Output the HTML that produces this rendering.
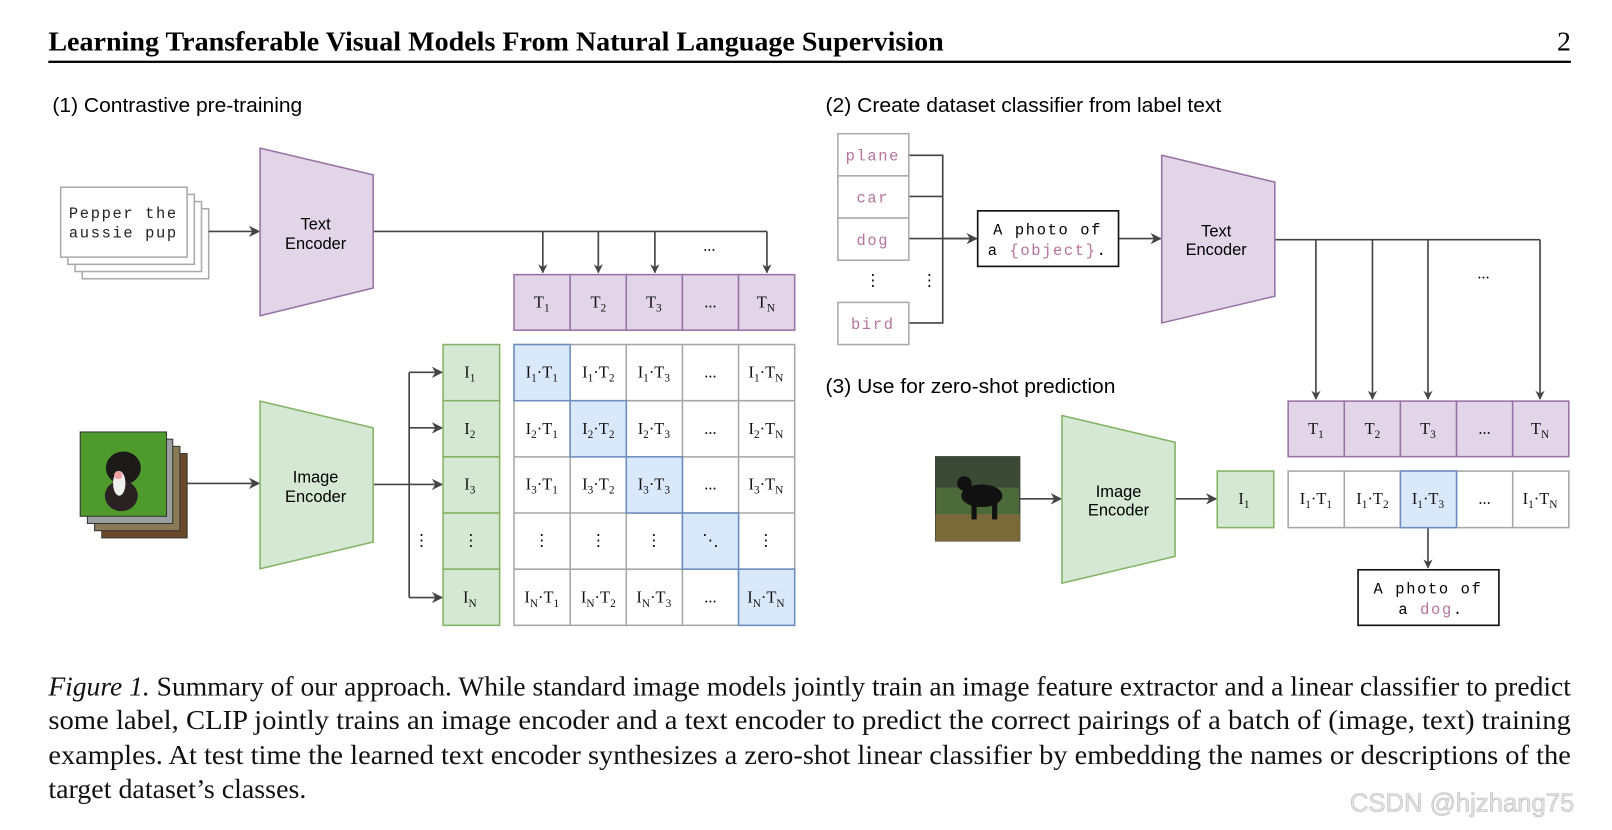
<!DOCTYPE html>
<html><head><meta charset="utf-8"><style>
html,body{margin:0;padding:0;background:#fff}
svg{display:block}
.sf{font-family:"Liberation Serif",serif}
.ss{font-family:"Liberation Sans",sans-serif}
.mo{font-family:"Liberation Mono",monospace;letter-spacing:1.6px}
.c{font-family:"Liberation Serif",serif;font-size:16px;text-anchor:middle;fill:#111}
.s{font-size:11px}
.pk{fill:#b5739d}
</style></head><body>
<svg width="1612" height="830" viewBox="0 0 1568 807" preserveAspectRatio="none" xmlns="http://www.w3.org/2000/svg">
<defs><marker id="a" viewBox="0 0 10 10" refX="9" refY="5" markerWidth="9" markerHeight="9" markerUnits="userSpaceOnUse" orient="auto"><path d="M0,0 L10,5 L0,10 L3,5 z" fill="#444"/></marker>
<marker id="b" viewBox="0 0 10 10" refX="9" refY="5" markerWidth="11" markerHeight="11" markerUnits="userSpaceOnUse" orient="auto"><path d="M0,0 L10,5 L0,10 L3,5 z" fill="#444"/></marker></defs>
<text x="47" y="49" class="sf" font-size="26.5" font-weight="bold" textLength="871" lengthAdjust="spacingAndGlyphs">Learning Transferable Visual Models From Natural Language Supervision</text>
<text x="1528" y="49" class="sf" font-size="27" text-anchor="end">2</text>
<rect x="47" y="59" width="1481" height="2.2" fill="#000"/>
<text x="51" y="109" class="ss" font-size="20" textLength="243" lengthAdjust="spacingAndGlyphs">(1) Contrastive pre-training</text>
<text x="803" y="109" class="ss" font-size="20" textLength="385" lengthAdjust="spacingAndGlyphs">(2) Create dataset classifier from label text</text>
<text x="803" y="382" class="ss" font-size="20" textLength="282" lengthAdjust="spacingAndGlyphs">(3) Use for zero-shot prediction</text>
<g fill="#fff" stroke="#aaa" stroke-width="1.5">
<rect x="80" y="203" width="123" height="68"/><rect x="73" y="196" width="123" height="68"/><rect x="66" y="189" width="123" height="68"/><rect x="59" y="182" width="123" height="68"/></g>
<text x="120" y="212" class="mo" font-size="15" text-anchor="middle" fill="#222">Pepper the</text>
<text x="120" y="231" class="mo" font-size="15" text-anchor="middle" fill="#222">aussie pup</text>
<g stroke="#444" stroke-width="1.6" fill="none">
<path d="M203 225H252" marker-end="url(#b)"/>
<path d="M363 225H746"/>
<path d="M528 225V265" marker-end="url(#a)"/><path d="M582 225V265" marker-end="url(#a)"/><path d="M637 225V265" marker-end="url(#a)"/><path d="M746 225V265" marker-end="url(#a)"/>
<path d="M182 470H252" marker-end="url(#b)"/>
<path d="M363 471H398"/><path d="M398 362V581"/>
<path d="M398 362H430" marker-end="url(#b)"/><path d="M398 416H430" marker-end="url(#b)"/><path d="M398 471H430" marker-end="url(#b)"/><path d="M398 581H430" marker-end="url(#b)"/>
<path d="M884 151H917V314H884M884 191H917M884 232H950" stroke="#444"/>
<path d="M917 232H950" marker-end="url(#b)"/>
<path d="M1088 232H1129" marker-end="url(#b)"/>
<path d="M1240 233H1498"/>
<path d="M1280 233V388" marker-end="url(#a)"/><path d="M1335 233V388" marker-end="url(#a)"/><path d="M1389 233V388" marker-end="url(#a)"/><path d="M1498 233V388" marker-end="url(#a)"/>
<path d="M992 485H1032" marker-end="url(#b)"/>
<path d="M1143 485H1183" marker-end="url(#b)"/>
<path d="M1389 513V552" marker-end="url(#a)"/>
</g>
<text x="690" y="244" class="c" font-size="12">...</text>
<text x="1443" y="271" class="c" font-size="12">...</text>
<polygon points="253,144 363,170 363,280 253,307" fill="#e1d5e7" stroke="#9673a6" stroke-width="1.5"/>
<text x="307" y="223" class="ss" font-size="16" text-anchor="middle">Text</text>
<text x="307" y="242" class="ss" font-size="16" text-anchor="middle">Encoder</text>
<polygon points="253,390 363,416 363,527 253,553" fill="#d5e8d4" stroke="#82b366" stroke-width="1.5"/>
<text x="307" y="469" class="ss" font-size="16" text-anchor="middle">Image</text>
<text x="307" y="488" class="ss" font-size="16" text-anchor="middle">Encoder</text>
<polygon points="1130,151 1240,177 1240,288 1130,314" fill="#e1d5e7" stroke="#9673a6" stroke-width="1.5"/>
<text x="1183" y="230" class="ss" font-size="16" text-anchor="middle">Text</text>
<text x="1183" y="248" class="ss" font-size="16" text-anchor="middle">Encoder</text>
<polygon points="1033,404 1143,430 1143,541 1033,567" fill="#d5e8d4" stroke="#82b366" stroke-width="1.5"/>
<text x="1088" y="483" class="ss" font-size="16" text-anchor="middle">Image</text>
<text x="1088" y="501" class="ss" font-size="16" text-anchor="middle">Encoder</text>
<!-- photos -->
<rect x="99" y="441" width="83" height="82" fill="#6b4a2a" stroke="#333"/>
<rect x="92" y="434" width="83" height="82" fill="#8a7a55" stroke="#333"/>
<rect x="85" y="427" width="83" height="82" fill="#9aa0a0" stroke="#333"/>
<rect x="78" y="420" width="84" height="82" fill="#4f9a2c" stroke="#333"/>
<ellipse cx="120" cy="455" rx="17" ry="16" fill="#1d1a1a"/><ellipse cx="118" cy="482" rx="16" ry="15" fill="#2a2222"/><ellipse cx="116" cy="470" rx="6" ry="12" fill="#eee"/><circle cx="115" cy="462" r="4" fill="#e8a0a0"/>
<rect x="910" y="444" width="82" height="82" fill="#4d6a3a" stroke="#333"/>
<rect x="910" y="444" width="82" height="30" fill="#3a4a35"/><rect x="910" y="500" width="82" height="26" fill="#7a6a3a"/>
<ellipse cx="955" cy="482" rx="20" ry="11" fill="#111"/><circle cx="938" cy="470" r="7" fill="#111"/><rect x="945" y="485" width="5" height="20" fill="#111"/><rect x="965" y="485" width="5" height="20" fill="#111"/>
<!-- T rows -->
<g fill="#e1d5e7" stroke="#9673a6" stroke-width="1.5">
<rect x="500" y="267" width="54.6" height="54"/><rect x="554.6" y="267" width="54.6" height="54"/><rect x="609.2" y="267" width="54.6" height="54"/><rect x="663.8" y="267" width="54.6" height="54"/><rect x="718.4" y="267" width="54.6" height="54"/>
<rect x="1253" y="390" width="54.6" height="54"/><rect x="1307.6" y="390" width="54.6" height="54"/><rect x="1362.2" y="390" width="54.6" height="54"/><rect x="1416.8" y="390" width="54.6" height="54"/><rect x="1471.4" y="390" width="54.6" height="54"/></g>
<text x="527" y="299" class="c">T<tspan class="s" dy="4">1</tspan></text>
<text x="582" y="299" class="c">T<tspan class="s" dy="4">2</tspan></text>
<text x="636" y="299" class="c">T<tspan class="s" dy="4">3</tspan></text>
<text x="691" y="299" class="c" font-size="12">...</text>
<text x="745" y="299" class="c">T<tspan class="s" dy="4">N</tspan></text>
<text x="1280" y="422" class="c">T<tspan class="s" dy="4">1</tspan></text>
<text x="1335" y="422" class="c">T<tspan class="s" dy="4">2</tspan></text>
<text x="1389" y="422" class="c">T<tspan class="s" dy="4">3</tspan></text>
<text x="1444" y="422" class="c" font-size="12">...</text>
<text x="1498" y="422" class="c">T<tspan class="s" dy="4">N</tspan></text>
<!-- I column -->
<g fill="#d5e8d4" stroke="#82b366" stroke-width="1.5">
<rect x="431" y="335" width="55" height="54.6"/><rect x="431" y="389.6" width="55" height="54.6"/><rect x="431" y="444.2" width="55" height="54.6"/><rect x="431" y="498.8" width="55" height="54.6"/><rect x="431" y="553.4" width="55" height="54.6"/>
<rect x="1184" y="458" width="55" height="55"/></g>
<text x="457" y="367" class="c">I<tspan class="s" dy="4">1</tspan></text>
<text x="457" y="422" class="c">I<tspan class="s" dy="4">2</tspan></text>
<text x="457" y="476" class="c">I<tspan class="s" dy="4">3</tspan></text>
<text x="458" y="531" class="c">⋮</text>
<text x="410" y="531" class="c">⋮</text>
<text x="457" y="586" class="c">I<tspan class="s" dy="4">N</tspan></text>
<text x="1210" y="490" class="c">I<tspan class="s" dy="4">1</tspan></text>
<!-- matrix -->
<g fill="#fff" stroke="#a6a6a6" stroke-width="1.5">
<rect x="500" y="335" width="273" height="273"/>
<path d="M554.6 335V608M609.2 335V608M663.8 335V608M718.4 335V608M500 389.6H773M500 444.2H773M500 498.8H773M500 553.4H773"/>
<rect x="1253" y="458" width="273" height="55"/>
<path d="M1307.6 458V513M1362.2 458V513M1416.8 458V513M1471.4 458V513"/></g>
<g fill="#dae8fc" stroke="#6c8ebf" stroke-width="1.5">
<rect x="500" y="335" width="54.6" height="54.6"/><rect x="554.6" y="389.6" width="54.6" height="54.6"/><rect x="609.2" y="444.2" width="54.6" height="54.6"/><rect x="663.8" y="498.8" width="54.6" height="54.6"/><rect x="718.4" y="553.4" width="54.6" height="54.6"/>
<rect x="1362.2" y="458" width="54.6" height="55"/></g>
<g>
<text x="527" y="367" class="c">I<tspan class="s" dy="4">1</tspan><tspan dy="-4">·T</tspan><tspan class="s" dy="4">1</tspan></text>
<text x="582" y="367" class="c">I<tspan class="s" dy="4">1</tspan><tspan dy="-4">·T</tspan><tspan class="s" dy="4">2</tspan></text>
<text x="636" y="367" class="c">I<tspan class="s" dy="4">1</tspan><tspan dy="-4">·T</tspan><tspan class="s" dy="4">3</tspan></text>
<text x="691" y="367" class="c" font-size="12">...</text>
<text x="745" y="367" class="c">I<tspan class="s" dy="4">1</tspan><tspan dy="-4">·T</tspan><tspan class="s" dy="4">N</tspan></text>
<text x="527" y="422" class="c">I<tspan class="s" dy="4">2</tspan><tspan dy="-4">·T</tspan><tspan class="s" dy="4">1</tspan></text>
<text x="582" y="422" class="c">I<tspan class="s" dy="4">2</tspan><tspan dy="-4">·T</tspan><tspan class="s" dy="4">2</tspan></text>
<text x="636" y="422" class="c">I<tspan class="s" dy="4">2</tspan><tspan dy="-4">·T</tspan><tspan class="s" dy="4">3</tspan></text>
<text x="691" y="422" class="c" font-size="12">...</text>
<text x="745" y="422" class="c">I<tspan class="s" dy="4">2</tspan><tspan dy="-4">·T</tspan><tspan class="s" dy="4">N</tspan></text>
<text x="527" y="476" class="c">I<tspan class="s" dy="4">3</tspan><tspan dy="-4">·T</tspan><tspan class="s" dy="4">1</tspan></text>
<text x="582" y="476" class="c">I<tspan class="s" dy="4">3</tspan><tspan dy="-4">·T</tspan><tspan class="s" dy="4">2</tspan></text>
<text x="636" y="476" class="c">I<tspan class="s" dy="4">3</tspan><tspan dy="-4">·T</tspan><tspan class="s" dy="4">3</tspan></text>
<text x="691" y="476" class="c" font-size="12">...</text>
<text x="745" y="476" class="c">I<tspan class="s" dy="4">3</tspan><tspan dy="-4">·T</tspan><tspan class="s" dy="4">N</tspan></text>
<text x="527" y="531" class="c">⋮</text><text x="582" y="531" class="c">⋮</text><text x="636" y="531" class="c">⋮</text><text x="691" y="531" class="c">⋱</text><text x="745" y="531" class="c">⋮</text>
<text x="527" y="586" class="c">I<tspan class="s" dy="4">N</tspan><tspan dy="-4">·T</tspan><tspan class="s" dy="4">1</tspan></text>
<text x="582" y="586" class="c">I<tspan class="s" dy="4">N</tspan><tspan dy="-4">·T</tspan><tspan class="s" dy="4">2</tspan></text>
<text x="636" y="586" class="c">I<tspan class="s" dy="4">N</tspan><tspan dy="-4">·T</tspan><tspan class="s" dy="4">3</tspan></text>
<text x="691" y="586" class="c" font-size="12">...</text>
<text x="745" y="586" class="c">I<tspan class="s" dy="4">N</tspan><tspan dy="-4">·T</tspan><tspan class="s" dy="4">N</tspan></text>
<text x="1280" y="490" class="c">I<tspan class="s" dy="4">1</tspan><tspan dy="-4">·T</tspan><tspan class="s" dy="4">1</tspan></text>
<text x="1335" y="490" class="c">I<tspan class="s" dy="4">1</tspan><tspan dy="-4">·T</tspan><tspan class="s" dy="4">2</tspan></text>
<text x="1389" y="490" class="c">I<tspan class="s" dy="4">1</tspan><tspan dy="-4">·T</tspan><tspan class="s" dy="4">3</tspan></text>
<text x="1444" y="490" class="c" font-size="12">...</text>
<text x="1498" y="490" class="c">I<tspan class="s" dy="4">1</tspan><tspan dy="-4">·T</tspan><tspan class="s" dy="4">N</tspan></text>
</g>
<!-- label boxes -->
<g fill="#fff" stroke="#aaa" stroke-width="1.5">
<rect x="815" y="130" width="69" height="41"/><rect x="815" y="171" width="69" height="41"/><rect x="815" y="212" width="69" height="41"/><rect x="815" y="294" width="69" height="41"/></g>
<g class="mo pk" font-size="15" text-anchor="middle">
<text x="849" y="156">plane</text><text x="849" y="197">car</text><text x="849" y="238">dog</text><text x="849" y="320">bird</text></g>
<text x="849" y="278" class="c" font-size="14">⋮</text><text x="904" y="278" class="c" font-size="14">⋮</text>
<rect x="951" y="205" width="137" height="54" fill="#fff" stroke="#111" stroke-width="1.6"/>
<text x="1019" y="228" class="mo" font-size="15" text-anchor="middle">A photo of</text>
<text x="1019" y="248" class="mo" font-size="15" text-anchor="middle">a <tspan class="pk">{object}</tspan>.</text>
<rect x="1321" y="554" width="137" height="54" fill="#fff" stroke="#111" stroke-width="1.6"/>
<text x="1389" y="577" class="mo" font-size="15" text-anchor="middle">A photo of</text>
<text x="1392" y="597" class="mo" font-size="15" text-anchor="middle">a <tspan class="pk">dog</tspan>.</text>
<!-- caption -->
<g class="sf" font-size="26.5" fill="#111">
<text x="47" y="676" textLength="1481" lengthAdjust="spacingAndGlyphs"><tspan font-style="italic">Figure 1.</tspan> Summary of our approach. While standard image models jointly train an image feature extractor and a linear classifier to predict</text>
<text x="47" y="709" textLength="1481" lengthAdjust="spacingAndGlyphs">some label, CLIP jointly trains an image encoder and a text encoder to predict the correct pairings of a batch of (image, text) training</text>
<text x="47" y="743" textLength="1481" lengthAdjust="spacingAndGlyphs">examples. At test time the learned text encoder synthesizes a zero-shot linear classifier by embedding the names or descriptions of the</text>
<text x="47" y="776" textLength="251" lengthAdjust="spacingAndGlyphs">target dataset’s classes.</text>
</g>
<text x="1313" y="789" class="ss" font-size="25" fill="#e4e4e4" stroke="#bbb" stroke-width="0.6">CSDN @hjzhang75</text>
</svg>
</body></html>
